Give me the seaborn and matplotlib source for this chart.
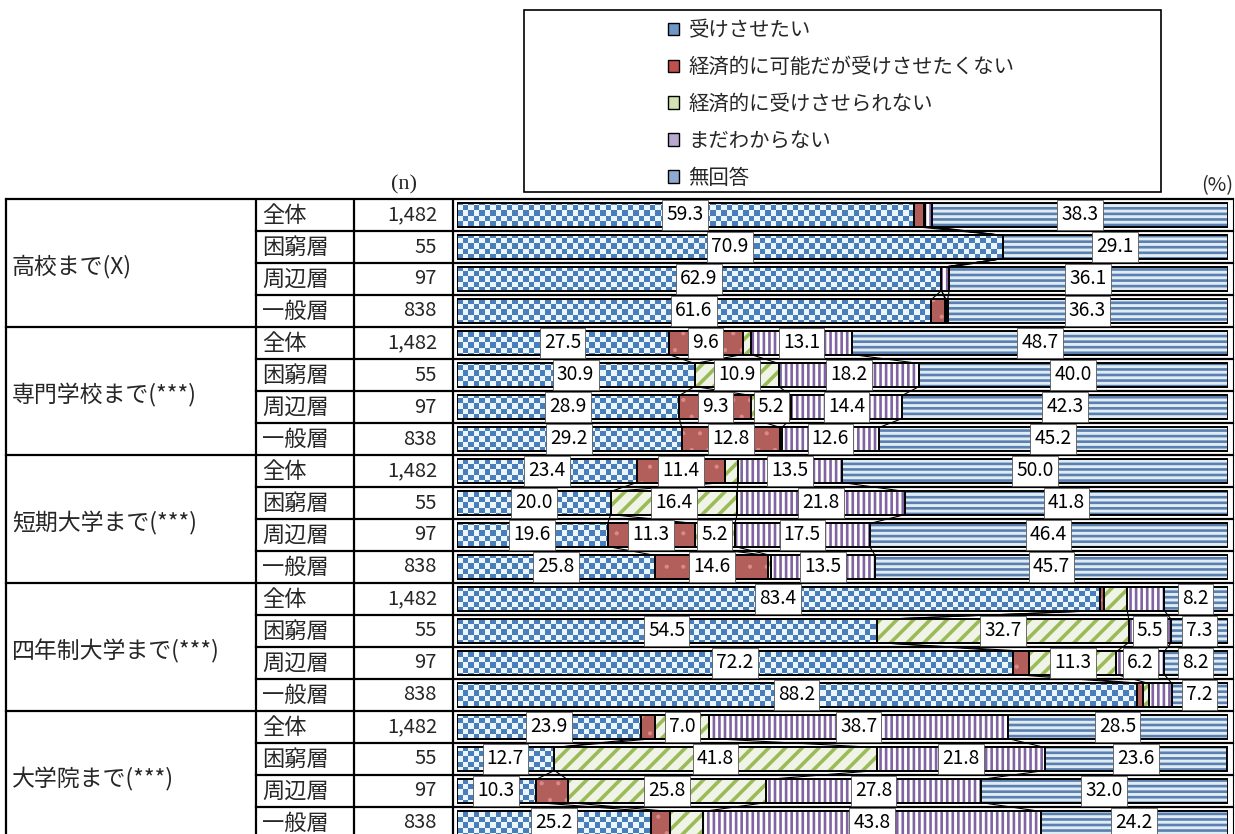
import numpy as np
import pandas as pd
import matplotlib
matplotlib.use("Agg")
import matplotlib.pyplot as plt
import seaborn as sns
from matplotlib.path import Path
from matplotlib.patches import Rectangle, Patch
from matplotlib.colors import to_rgb

# ---------------- data ----------------
groups = ["高校まで(X)", "専門学校まで(***)", "短期大学まで(***)",
          "四年制大学まで(***)", "大学院まで(***)"]
strata = ["全体", "困窮層", "周辺層", "一般層"]
n_labels = ["1,482", "55", "97", "838"]

series_names = ["受けさせたい", "経済的に可能だが受けさせたくない",
                "経済的に受けさせられない", "まだわからない", "無回答"]

want = [59.3, 70.9, 62.9, 61.6, 27.5, 30.9, 28.9, 29.2, 23.4, 20.0,
        19.6, 25.8, 83.4, 54.5, 72.2, 88.2, 23.9, 12.7, 10.3, 25.2]
unwilling = [1.3, 0.0, 0.0, 1.8, 9.6, 0.0, 9.3, 12.8, 11.4, 0.0,
             11.3, 14.6, 0.6, 0.0, 2.1, 0.8, 1.9, 0.0, 4.1, 2.5]
cannot = [0.2, 0.0, 0.0, 0.1, 1.1, 10.9, 5.2, 0.2, 1.7, 16.4,
          5.2, 0.4, 3.0, 32.7, 11.3, 0.8, 7.0, 41.8, 25.8, 4.3]
undecided = [0.9, 0.0, 1.0, 0.2, 13.1, 18.2, 14.4, 12.6, 13.5, 21.8,
             17.5, 13.5, 4.8, 5.5, 6.2, 3.0, 38.7, 21.8, 27.8, 43.8]
no_answer = [38.3, 29.1, 36.1, 36.3, 48.7, 40.0, 42.3, 45.2, 50.0, 41.8,
             46.4, 45.7, 8.2, 7.3, 8.2, 7.2, 28.5, 23.6, 32.0, 24.2]

values = [want, unwilling, cannot, undecided, no_answer]

# ---------------- styling ----------------
sns.set_theme(style="white")
plt.rcParams["font.family"] = ["Noto Sans CJK JP", "DejaVu Sans"]
plt.rcParams["hatch.linewidth"] = 1.8

face_colors = ["#EAF6FB", "#C0504D", "#F1F6E4", "#FFFFFF", "#DCEEF6"]
hatches = [None, ".", "//", "|||", "---"]
hatch_colors = ["#4A7EBB", "#DB8A87", "#9BBB59", "#8064A2", "#5B7FB0"]
hatch_widths = [1.0, 0.6, 2.6, 1.9, 1.9]
legend_faces = ["#6F96C8", "#C0504D", "#D3E2B2", "#B9A8D0", "#8FAAD0"]

W, H = 1235, 834
TOP, ROW_H = 199, 32
X_LEFT, X_SUB, X_N, X_BAR, X_RIGHT = 6, 256, 354, 453, 1233
BAR_X0, BAR_X1 = 456.5, 1227.5
n_rows = len(groups) * len(strata)
BOTTOM = TOP + ROW_H * n_rows
BAR_W = 0.72
CHECK = 5.5  # checker square size in pixels

row_ids = [f"{g}/{s}" for g in groups for s in strata]
df = pd.DataFrame({"row": row_ids})
cum = np.cumsum(np.array(values), axis=0)
for k in range(len(values)):
    df[f"c{k}"] = cum[k]

fig = plt.figure(figsize=(W / 100, H / 100), dpi=100)

# table / frame layer in pixel coordinates
base = fig.add_axes([0, 0, 1, 1])
base.set_xlim(0, W)
base.set_ylim(H, 0)
base.axis("off")

# bar layer
ax = fig.add_axes([BAR_X0 / W, (H - BOTTOM) / H,
                   (BAR_X1 - BAR_X0) / W, ROW_H * n_rows / H])
ax.patch.set_visible(False)

for k in reversed(range(len(values))):
    z = 2 + (len(values) - 1 - k) * 1.0
    sns.barplot(data=df, x=f"c{k}", y="row", order=row_ids, orient="h",
                color=face_colors[k], hatch=hatches[k],
                edgecolor=hatch_colors[k], linewidth=0, width=BAR_W,
                errorbar=None, ax=ax, zorder=z)
    bars = ax.containers[-1].patches
    for p in bars:
        if hasattr(p, "set_hatch_linewidth"):
            p.set_hatch_linewidth(hatch_widths[k])
    if k == 0:
        # checkerboard fill for the first series, clipped to its bars
        clip = Path.make_compound_path(
            *[p.get_path().transformed(p.get_patch_transform()) for p in bars])
        nx = int(round((BAR_X1 - BAR_X0) / CHECK))
        ny = int(round(ROW_H * n_rows / CHECK))
        ii, jj = np.indices((ny, nx))
        blue = np.array(to_rgb(hatch_colors[0]))
        light = np.array(to_rgb(face_colors[0]))
        tex = np.where(((ii + jj) % 2 == 0)[..., None], blue, light)
        im = ax.imshow(tex, extent=(0, 100, n_rows - 0.5, -0.5),
                       aspect="auto", interpolation="nearest", zorder=z + 0.3)
        im.set_clip_path(clip, ax.transData)
    sns.barplot(data=df, x=f"c{k}", y="row", order=row_ids, orient="h",
                color="black", fill=False, linewidth=1.4, width=BAR_W,
                errorbar=None, ax=ax, zorder=z + 0.6)

# series lines between neighbouring bars of the same group
per = len(strata)
for g in range(len(groups)):
    for i in range(per - 1):
        r = g * per + i
        for k in range(len(values) - 1):
            ax.plot([cum[k][r], cum[k][r + 1]],
                    [r + BAR_W / 2, r + 1 - BAR_W / 2],
                    color="black", lw=0.8, zorder=1.5)

# value labels
for r in range(n_rows):
    for k in range(len(values)):
        v = values[k][r]
        if v >= 5:
            x = cum[k][r] - v / 2
            ax.text(x, r, f"{v:.1f}", ha="center", va="center",
                    fontsize=13.8, color="black", zorder=20,
                    bbox=dict(boxstyle="square,pad=0.22", fc="white",
                              ec="#555555", lw=0.6))

ax.set_xlim(0, 100)
ax.set_ylim(n_rows - 0.5, -0.5)
ax.axis("off")

# table grid
for i in range(n_rows + 1):
    y = TOP + i * ROW_H
    x0 = X_LEFT if i % per == 0 else X_SUB
    base.plot([x0, X_RIGHT], [y, y], color="black", lw=1.6,
              solid_capstyle="projecting")
for x in [X_LEFT, X_SUB, X_N, X_BAR]:
    base.plot([x, x], [TOP, BOTTOM], color="black", lw=1.6)
base.plot([X_RIGHT, X_RIGHT], [TOP, BOTTOM], color="black", lw=0.8)

# table text
for g, name in enumerate(groups):
    base.text(12, TOP + g * per * ROW_H + per * ROW_H / 2 + 4, name,
              ha="left", va="center", fontsize=16.5)
for r in range(n_rows):
    yc = TOP + r * ROW_H + ROW_H / 2
    base.text(262, yc, strata[r % per], ha="left", va="center", fontsize=16)
    base.text(437, yc, n_labels[r % per], ha="right", va="center", fontsize=14.5)

base.text(404, 185, "(n)", ha="center", va="center", fontsize=16,
          family=["Liberation Serif", "DejaVu Serif"])
base.text(1217, 186, "(%)", ha="center", va="center", fontsize=14.5)

# legend
base.add_patch(Rectangle((524, 10), 637, 182, fill=False, ec="black", lw=1.2))
handles = [Patch(facecolor=legend_faces[k], edgecolor="black", lw=1.0)
           for k in range(len(series_names))]
fig.legend(handles, series_names, loc="upper left",
           bbox_to_anchor=(668 / W, 1 - 20 / H), frameon=False,
           fontsize=14.7, handlelength=0.55, handleheight=0.55,
           handletextpad=0.45, labelspacing=0.78, borderpad=0,
           borderaxespad=0)

fig.savefig("out.png", dpi=100)
